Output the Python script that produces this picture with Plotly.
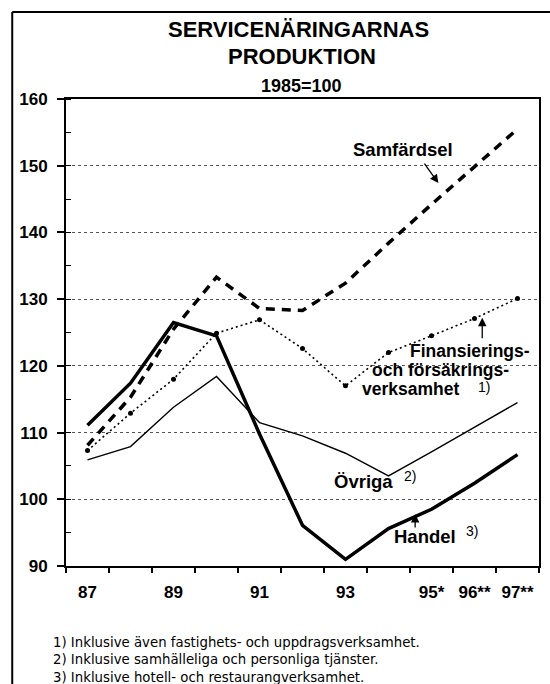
import plotly.graph_objects as go

# --- data -------------------------------------------------------------
years = [87, 88, 89, 90, 91, 92, 93, 94, 95, 96, 97]
tick_years = [87, 89, 91, 93, 95, 96, 97]
tick_labels = ["87", "89", "91", "93", "95*", "96**", "97**"]

handel = [111.1, 117.4, 126.5, 124.5, 109.8, 96.1, 91.0, 95.6, 98.5, 102.4, 106.7]
ovriga = [105.9, 107.9, 113.8, 118.4, 111.5, 109.5, 106.9, 103.5, 107.1, 110.8, 114.5]
samfardsel = [108.1, 115.3, 125.5, 133.3, 128.6, 128.3, 132.4, 138.4, 144.2, 149.8, 155.5]
finans = [107.3, 112.9, 118.0, 124.9, 126.9, 122.6, 117.0, 122.0, 124.5, 127.1, 130.1]

title_lines = ["SERVICENÄRINGARNAS", "PRODUKTION"]
subtitle = "1985=100"
footnotes = [
    "1) Inklusive även fastighets- och uppdragsverksamhet.",
    "2) Inklusive samhälleliga och personliga tjänster.",
    "3) Inklusive hotell- och restaurangverksamhet.",
]

# --- page geometry ----------------------------------------------------
W, H = 550, 684
ML, MR, MT, MB = 66, 9, 99, 118
PW, PH = W - ML - MR, H - MT - MB
FONT = "Liberation Sans, Arial, sans-serif"
WIDE = "DejaVu Sans, Verdana, sans-serif"


def px_x(px):
    return (px - ML) / PW


def px_y(py):
    return (H - MB - py) / PH


fig = go.Figure()

fig.add_trace(go.Scatter(x=years, y=ovriga, mode="lines",
                         line=dict(color="black", width=1.4)))
fig.add_trace(go.Scatter(x=years, y=finans, mode="lines+markers",
                         line=dict(color="black", width=1.6, dash="2px,3px"),
                         marker=dict(color="black", size=5)))
fig.add_trace(go.Scatter(x=years, y=samfardsel, mode="lines",
                         line=dict(color="black", width=3.5, dash="9px,7px")))
fig.add_trace(go.Scatter(x=years, y=handel, mode="lines",
                         line=dict(color="black", width=3.5)))

# series labels
bold = dict(family=FONT, size=18.5, color="black", weight="bold")
bold_s = dict(family=FONT, size=17.5, color="black", weight="bold")
small = dict(family=FONT, size=14, color="black")
labels = [
    ("Samfärdsel", 94.33, 152.4, bold),
    ("Finansierings-", 95.90, 122.2, bold_s),
    ("och försäkrings-", 95.20, 119.35, bold_s),
    ("verksamhet", 94.51, 116.5, bold_s),
    ("1)", 96.21, 116.8, small),
    ("Övriga", 93.41, 102.6, bold),
    ("2)", 94.49, 103.5, small),
    ("Handel", 94.86, 94.4, bold),
    ("3)", 95.95, 95.3, small),
]
for txt, x, y, f in labels:
    fig.add_annotation(x=x, y=y, text=txt, showarrow=False, font=f,
                       xanchor="center", yanchor="middle", borderpad=0)

# pointer arrows (tip at x/y, tail offset in pixels)
arrows = [(95.16, 147.4, -15, -21), (96.18, 127.2, 0, 22), (94.62, 97.8, 0, 15)]
for x, y, ax, ay in arrows:
    fig.add_annotation(x=x, y=y, ax=ax, ay=ay, text="", showarrow=True,
                       arrowhead=2, arrowsize=1.3, arrowwidth=1.3,
                       arrowcolor="black")

# title block
for txt, cx, cy, size in [(title_lines[0], 299, 29.5, 22),
                          (title_lines[1], 303, 56.7, 22),
                          (subtitle, 302.5, 85.8, 18)]:
    fig.add_annotation(xref="paper", yref="paper", x=px_x(cx), y=px_y(cy),
                       text=txt, showarrow=False, xanchor="center",
                       yanchor="middle",
                       font=dict(family=FONT, size=size, color="black",
                                 weight="bold"))

# footnotes
for i, txt in enumerate(footnotes):
    fig.add_annotation(xref="paper", yref="paper", x=px_x(51), y=px_y(642 + 17.5 * i),
                       text=txt, showarrow=False, xanchor="left", yanchor="middle",
                       font=dict(family=WIDE, size=13.3, color="black"))

# outer frame (left and top rule)
fig.add_shape(type="line", xref="paper", yref="paper",
              x0=px_x(12), x1=px_x(12), y0=px_y(12), y1=px_y(H + 2),
              line=dict(color="black", width=2))
fig.add_shape(type="line", xref="paper", yref="paper",
              x0=px_x(12), x1=px_x(W + 2), y0=px_y(12), y1=px_y(12),
              line=dict(color="black", width=2))

tickfont = dict(family=FONT, size=17, color="black", weight="bold")
fig.update_layout(
    width=W, height=H,
    margin=dict(l=ML, r=MR, t=MT, b=MB),
    paper_bgcolor="white", plot_bgcolor="white",
    showlegend=False,
    xaxis=dict(range=[86.5, 97.5], tickmode="array", tickvals=tick_years,
               ticktext=tick_labels, ticks="", tickfont=tickfont,
               ticklabelstandoff=9,
               showgrid=False, zeroline=False,
               showline=True, linecolor="black", linewidth=2.2, mirror=True,
               minor=dict(ticks="outside", tick0=86.5, dtick=1, ticklen=5,
                          tickwidth=1.5, tickcolor="black", showgrid=False)),
    xaxis2=dict(overlaying="x", matches="x", anchor="y", showline=False,
                showgrid=False, zeroline=False, showticklabels=False,
                ticks="",
                minor=dict(ticks="inside", tick0=86.5, dtick=1, ticklen=5,
                           tickwidth=1.5, tickcolor="black", showgrid=False)),
    yaxis=dict(range=[90, 160], tickmode="linear", tick0=90, dtick=10,
               ticks="outside", ticklen=7, tickwidth=1.5, tickcolor="black",
               tickfont=tickfont, ticklabelstandoff=6,
               showgrid=True, gridcolor="#555", gridwidth=1, griddash="dot",
               zeroline=False,
               showline=True, linecolor="black", linewidth=2, mirror=True,
               minor=dict(ticks="inside", tick0=90, dtick=5, ticklen=5,
                          tickwidth=1.2, tickcolor="black", showgrid=False)),
)

fig.write_html("out.html")
